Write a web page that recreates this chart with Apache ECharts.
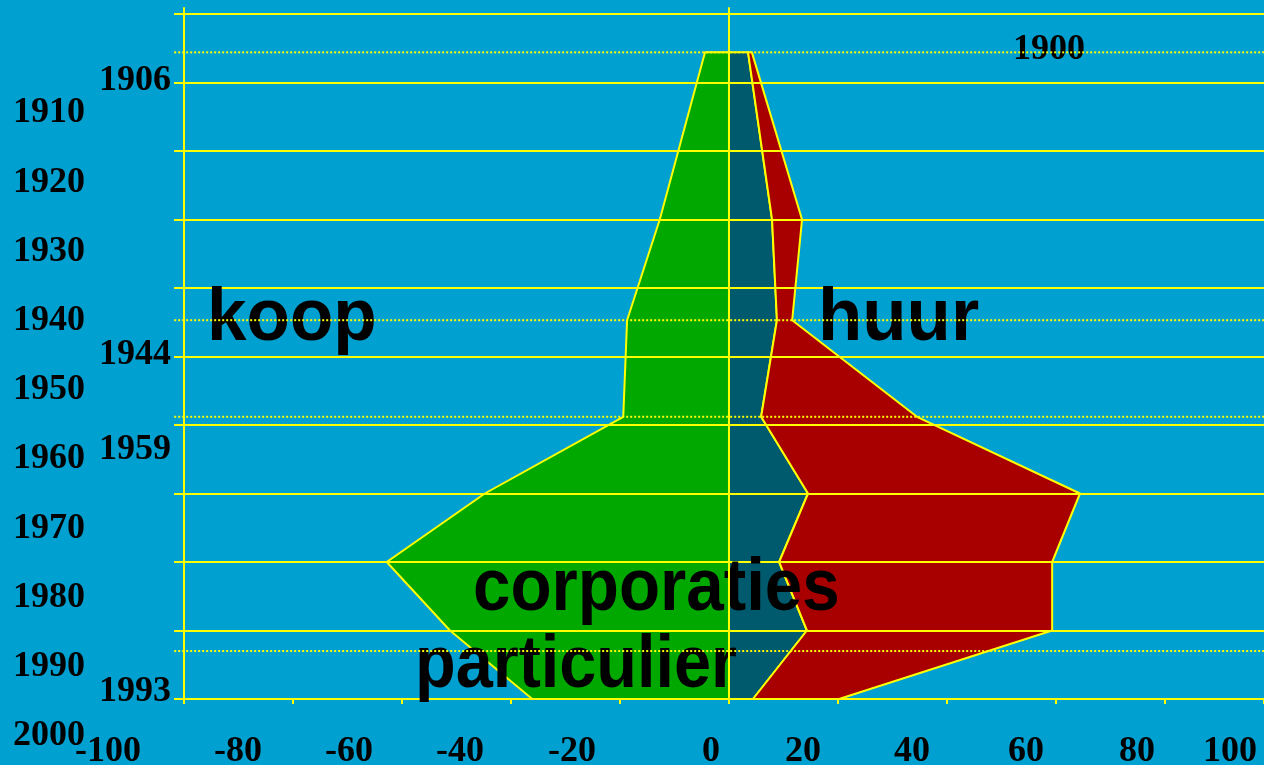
<!DOCTYPE html>
<html><head><meta charset="utf-8">
<script src="https://cdn.jsdelivr.net/npm/echarts@6/dist/echarts.min.js"></script>
<style>html,body{margin:0;padding:0;background:#00a0d0;} #c{width:1264px;height:765px;}</style>
</head><body><div id="c"></div>
<script>
// ---- data ----
const years = [1905.6, 1930, 1944.7, 1958.8, 1970, 1980, 1990, 2000];
const koop = [-4.4, -12.7, -18.7, -19.4, -44.8, -62.8, -51.2, -36.1];
const corporaties = [3.5, 7.9, 8.8, 5.9, 14.5, 9.2, 14.3, 4.4];
const particulier = [0.7, 5.5, 2.8, 28.6, 49.9, 50.1, 45.0, 15.8];
const markYears = [1905.6, 1944.7, 1958.8, 1993];
const xTickLabels = ['-100', '-80', '-60', '-40', '-20', '0', '20', '40', '60', '80', '100'];
const yearNotes = ['1906', '1944', '1959', '1993'];
const topNote = '1900';
const areaLabels = ['koop', 'huur', 'corporaties', 'particulier'];

// ---- layout (pixels for free-floating text boxes) ----
const xTickLabelX = [108, 238, 349, 460, 572, 711, 803, 912, 1026, 1137, 1230];
const xTickLabelY = 752;
const yearNoteY = [81, 355, 450, 692];

const YEL = '#ffff00';
const zeros = years.map(() => 0);
const huurTotal = corporaties.map((v, i) => +(v + particulier[i]).toFixed(2));

function band(inner, outer, fill) {
  return function (params, api) {
    if (params.dataIndex !== 0) return;
    const pts = [];
    for (let i = 0; i < years.length; i++) pts.push(api.coord([outer[i], years[i]]));
    for (let i = years.length - 1; i >= 0; i--) pts.push(api.coord([inner[i], years[i]]));
    return { type: 'polygon', shape: { points: pts }, style: { fill: fill, stroke: YEL, lineWidth: 2, lineJoin: 'round' } };
  };
}

function guideLines(params, api) {
  if (params.dataIndex !== 0) return;
  const children = [];
  markYears.forEach(y => {
    const a = api.coord([-101.8, y]), b = api.coord([98.17, y]);
    children.push({ type: 'line', shape: { x1: a[0], y1: a[1], x2: b[0], y2: b[1] },
      style: { stroke: YEL, lineWidth: 2, lineDash: [2, 2] } });
  });
  [0, -100].forEach(x => {
    const a = api.coord([x, 1899]), b = api.coord([x, x === 0 ? 2000 : 1900]);
    children.push({ type: 'line', shape: { x1: a[0], y1: a[1], x2: b[0], y2: b[1] },
      style: { stroke: YEL, lineWidth: 2 } });
  });
  return { type: 'group', children: children };
}

const serif = '"Liberation Serif", "Times New Roman", serif';
const sans = '"Liberation Sans", Arial, sans-serif';

const graphics = [];
xTickLabels.forEach((t, i) => graphics.push({
  type: 'text', x: xTickLabelX[i], y: xTickLabelY, z: 4,
  style: { text: t, fontFamily: serif, fontWeight: 'bold', fontSize: 36, fill: '#000', align: 'center', verticalAlign: 'middle' }
}));
yearNotes.forEach((t, i) => graphics.push({
  type: 'text', x: 171, y: yearNoteY[i], z: 4,
  style: { text: t, fontFamily: serif, fontWeight: 'bold', fontSize: 36, fill: '#000', align: 'right', verticalAlign: 'middle' }
}));
graphics.push({
  type: 'text', x: 1013, y: 50, z: 4,
  style: { text: topNote, fontFamily: serif, fontWeight: 'bold', fontSize: 36, fill: '#000', align: 'left', verticalAlign: 'middle' }
});
const bigPos = [[207, 320, 0.96], [818, 320, 0.98], [473, 590, 0.91], [415, 667, 0.9]];
areaLabels.forEach((t, i) => graphics.push({
  type: 'text', x: bigPos[i][0], y: bigPos[i][1], z: 4, scaleX: bigPos[i][2],
  style: { text: t, fontFamily: sans, fontWeight: 'bold', fontSize: 74, fill: '#000', align: 'left', verticalAlign: 'middle' }
}));

const chart = echarts.init(document.getElementById('c'), null, { renderer: 'canvas' });
chart.setOption({
  backgroundColor: '#00a0d0',
  animation: false,
  grid: [
    { left: 184, top: 14, width: 1080, height: 685 },
    { left: 13, top: 44, width: 10, height: 692 }
  ],
  xAxis: [
    { type: 'value', gridIndex: 0, min: -100, max: 98.17, interval: 20, z: 3,
      axisLine: { show: true, onZero: false, lineStyle: { color: YEL, width: 2 } },
      axisTick: { show: true, length: 5, lineStyle: { color: YEL, width: 2 } },
      axisLabel: { show: false }, splitLine: { show: false } },
    { type: 'value', gridIndex: 1, show: false }
  ],
  yAxis: [
    { type: 'value', gridIndex: 0, inverse: true, min: 1900, max: 2000, interval: 10, z: 3,
      axisLine: { show: true, onZero: false, lineStyle: { color: YEL, width: 2 } },
      axisTick: { show: true, length: 10, lineStyle: { color: YEL, width: 2 } },
      axisLabel: { show: false },
      splitLine: { show: true, lineStyle: { color: YEL, width: 2 } } },
    { type: 'value', gridIndex: 1, inverse: true, min: 1900, max: 2000, interval: 10,
      axisLine: { show: false }, axisTick: { show: false }, splitLine: { show: false },
      axisLabel: { show: true, inside: true, margin: 0, showMinLabel: false, showMaxLabel: true,
        formatter: v => String(v),
        color: '#000', fontFamily: serif, fontWeight: 'bold', fontSize: 36 } }
  ],
  graphic: graphics,
  series: [
    { type: 'custom', name: 'koop', z: 1, xAxisIndex: 0, yAxisIndex: 0, data: [[0, 1950]], renderItem: band(zeros, koop, '#00a800') },
    { type: 'custom', name: 'corporaties', z: 1, xAxisIndex: 0, yAxisIndex: 0, data: [[0, 1950]], renderItem: band(zeros, corporaties, '#005a6e') },
    { type: 'custom', name: 'particulier', z: 1, xAxisIndex: 0, yAxisIndex: 0, data: [[0, 1950]], renderItem: band(corporaties, huurTotal, '#a80000') },
    { type: 'custom', name: 'guides', z: 5, xAxisIndex: 0, yAxisIndex: 0, clip: false, silent: true, data: [[0, 1950]], renderItem: guideLines }
  ]
});
</script></body></html>
